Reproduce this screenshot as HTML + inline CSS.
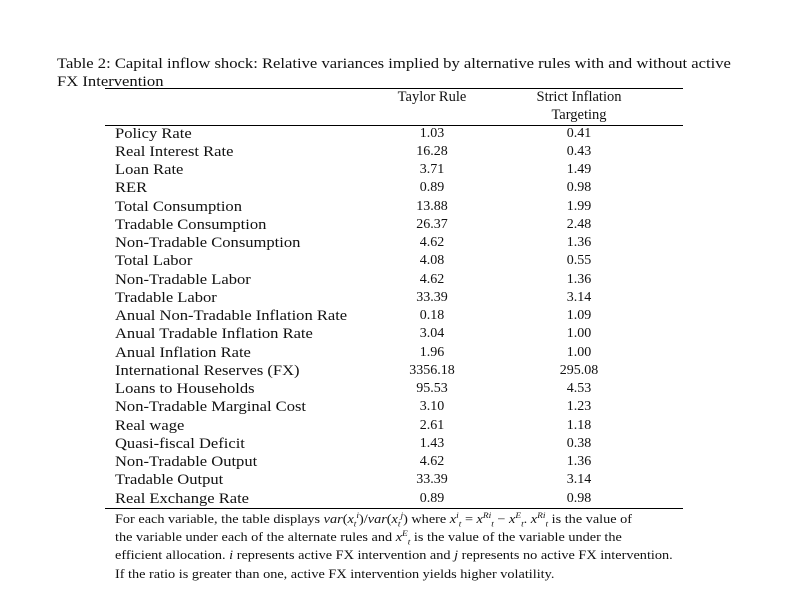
<!DOCTYPE html>
<html><head><style>
body{margin:0;width:790px;height:614px;background:#fff;position:relative;font-family:"Liberation Serif",serif;color:#111;overflow:hidden}
.t{position:absolute;white-space:nowrap;font-size:14.5px;line-height:18px;transform-origin:0 0}
.lab{transform:scaleX(1.14)}
.c1{position:absolute;width:120px;left:372px;text-align:center;font-size:14px;line-height:18px}
.c2{position:absolute;width:140px;left:509px;text-align:center;font-size:14px;line-height:18px}
.r{position:absolute;left:105px;width:578px;border-top:1px solid #000}
.n{position:absolute;left:115px;font-size:12.2px;white-space:nowrap;line-height:18px;transform:scaleX(1.17);transform-origin:0 0}
sup,sub{font-size:8px;line-height:0}
</style></head><body>
<div class="t" style="left:57px;top:55px;font-size:15px;transform:scaleX(1.107)">Table 2: Capital inflow shock: Relative variances implied by alternative rules with and without active</div>
<div class="t" style="left:57px;top:73px;font-size:15px;transform:scaleX(1.107)">FX Intervention</div>
<div class="r" style="top:88px"></div>
<div class="c1" style="top:88px;font-size:14.5px">Taylor Rule</div>
<div class="c2" style="top:88px;font-size:14.5px">Strict Inflation</div>
<div class="c2" style="top:106px;font-size:14.5px">Targeting</div>
<div class="r" style="top:125px"></div>
<div id="rows"></div>
<div class="r" style="top:508px"></div>
<div class="n" style="top:510px">For each variable, the table displays <i>var</i>(<i>x<sub>t</sub><sup>i</sup></i>)/<i>var</i>(<i>x<sub>t</sub><sup>j</sup></i>) where <i>x<sup>i</sup><sub>t</sub></i> = <i>x<sup>Ri</sup><sub>t</sub></i> − <i>x<sup>E</sup><sub>t</sub></i>. <i>x<sup>Ri</sup><sub>t</sub></i> is the value of</div>
<div class="n" style="top:528px">the variable under each of the alternate rules and <i>x<sup>E</sup><sub>t</sub></i> is the value of the variable under the</div>
<div class="n" style="top:546px">efficient allocation. <i>i</i> represents active FX intervention and <i>j</i> represents no active FX intervention.</div>
<div class="n" style="top:565px">If the ratio is greater than one, active FX intervention yields higher volatility.</div>
<script>
var d=[["Policy Rate","1.03","0.41"],["Real Interest Rate","16.28","0.43"],["Loan Rate","3.71","1.49"],["RER","0.89","0.98"],["Total Consumption","13.88","1.99"],["Tradable Consumption","26.37","2.48"],["Non-Tradable Consumption","4.62","1.36"],["Total Labor","4.08","0.55"],["Non-Tradable Labor","4.62","1.36"],["Tradable Labor","33.39","3.14"],["Anual Non-Tradable Inflation Rate","0.18","1.09"],["Anual Tradable Inflation Rate","3.04","1.00"],["Anual Inflation Rate","1.96","1.00"],["International Reserves (FX)","3356.18","295.08"],["Loans to Households","95.53","4.53"],["Non-Tradable Marginal Cost","3.10","1.23"],["Real wage","2.61","1.18"],["Quasi-fiscal Deficit","1.43","0.38"],["Non-Tradable Output","4.62","1.36"],["Tradable Output","33.39","3.14"],["Real Exchange Rate","0.89","0.98"]];
var h="";d.forEach(function(r,i){var y=(124.5+i*18.25).toFixed(1);h+='<div class="t lab" style="left:115px;top:'+y+'px">'+r[0]+'</div><div class="c1" style="top:'+y+'px">'+r[1]+'</div><div class="c2" style="top:'+y+'px">'+r[2]+'</div>';});
document.getElementById("rows").innerHTML=h;
</script>
</body></html>
